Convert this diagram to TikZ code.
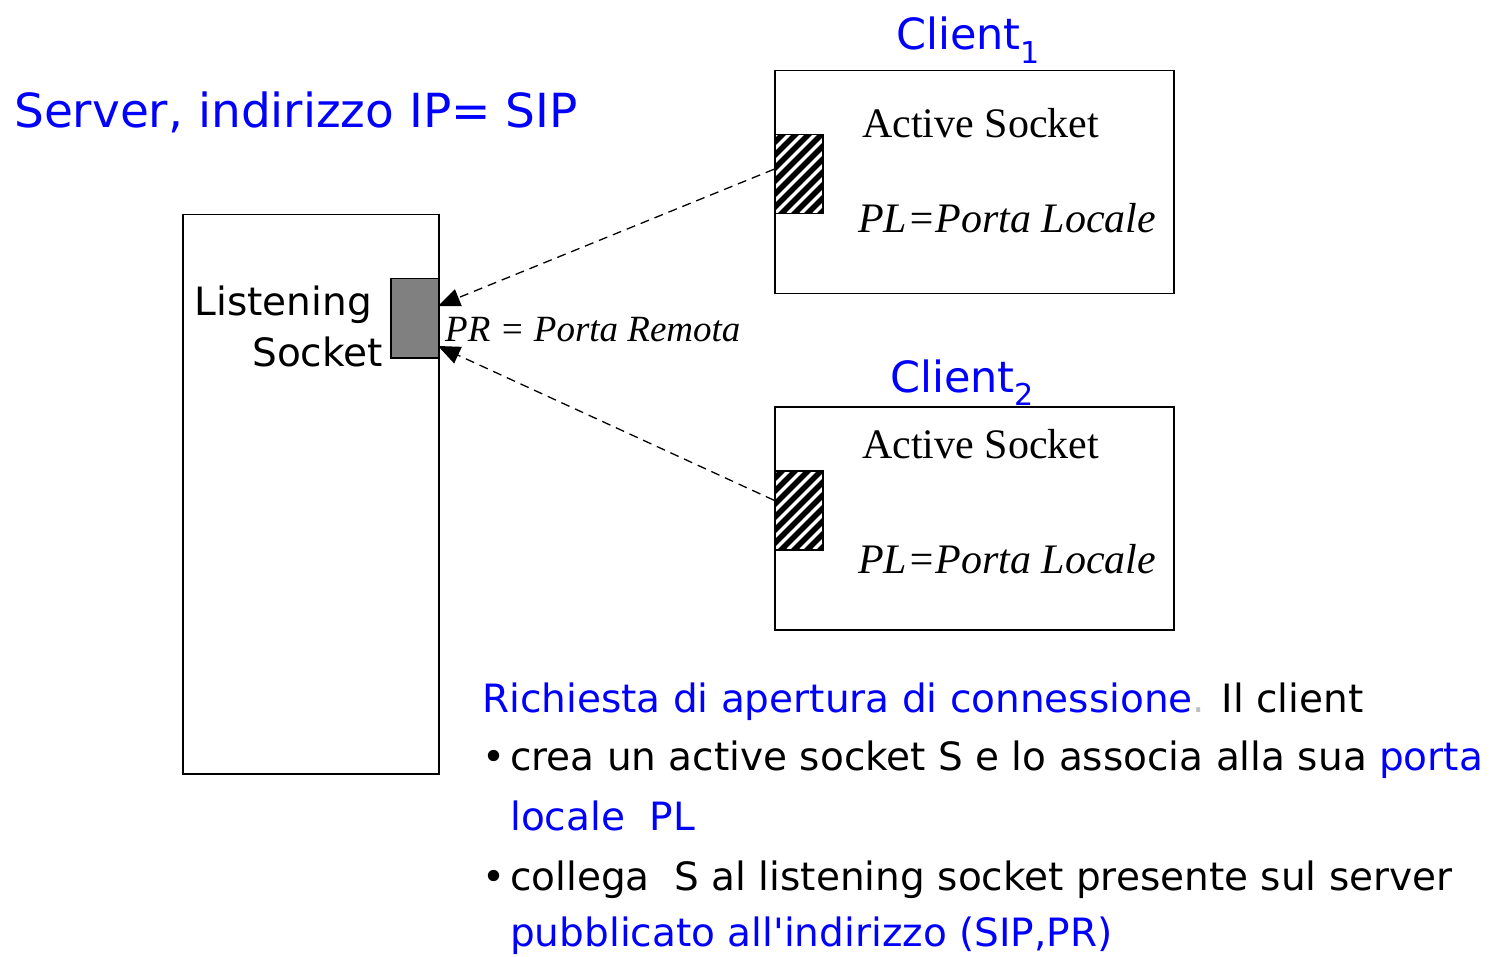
\documentclass[tikz,border=0pt]{standalone}
\usepackage{fontspec}
\setmainfont{Liberation Serif}
\newfontfamily\comicfont{DejaVu Sans}
\usepackage{xcolor}
\usepackage{tikz}
\usetikzlibrary{arrows.meta,positioning}

\begin{document}
\begin{tikzpicture}[x=1pt,y=-1pt,
    box/.style={draw,line width=1.5pt,inner sep=0,anchor=north west},
    hatch/.style={draw,line width=1.5pt,fill=black,inner sep=0,anchor=north west,
      minimum width=48pt,minimum height=79pt,
      path picture={\foreach \k in {-8,...,5}
        \draw[white,line width=3.5pt] ([xshift=\k*13pt]path picture bounding box.south west) -- ++(90pt,90pt);}},
    conn/.style={dashed,line width=1.3pt,dash pattern=on 9pt off 6pt,-{Triangle[length=22pt,width=18pt]}},
    comic/.style={font=\comicfont\fontsize{39}{47}\selectfont,anchor=base west,inner sep=0},
    serif/.style={font=\fontsize{42}{50}\selectfont,anchor=base west,inner sep=0}]
  \useasboundingbox (0,0) rectangle (1495,957);
  % server
  \node[comic,font=\comicfont\fontsize{47}{56}\selectfont,text=blue] (srv) at (14,128) {Server, indirizzo IP= SIP};
  \node[box,minimum width=256pt,minimum height=559pt] (sbox) at (182,214) {};
  \node[box,fill=gray,minimum width=48pt,minimum height=79pt] (ls) at (390,278) {};
  \node[comic,anchor=base east] (lst1) at (372,316) {Listening};
  \node[comic,anchor=base east] (lst2) at (383,366) {Socket};
  \node[serif,font=\itshape\fontsize{37}{44}\selectfont] (pr) at (445,341) {PR = Porta Remota};
  % client 1
  \node[comic,font=\comicfont\fontsize{43}{52}\selectfont,text=blue] (c1) at (896,50) {Client\textsubscript{1}};
  \node[box,minimum width=399pt,minimum height=223pt] (cbox1) at (774,70) {};
  \node[hatch] (h1) at (774,134) {};
  \node[serif] (as1) at (862,138) {Active Socket};
  \node[serif,font=\itshape\fontsize{42}{50}\selectfont] (pl1) at (858,233) {PL=Porta Locale};
  % client 2
  \node[comic,font=\comicfont\fontsize{43}{52}\selectfont,text=blue] (c2) at (890,392) {Client\textsubscript{2}};
  \node[box,minimum width=399pt,minimum height=223pt] (cbox2) at (774,406) {};
  \node[hatch] (h2) at (774,470) {};
  \node[serif] (as2) at (862,458) {Active Socket};
  \node[serif,font=\itshape\fontsize{42}{50}\selectfont] (pl2) at (858,573) {PL=Porta Locale};
  % connessioni
  \coordinate (pr1) at (438,306);
  \coordinate (pr2) at (438,346);
  \draw[conn] ([yshift=5pt]h1.west) -- (pr1);
  \draw[conn] ([yshift=10pt]h2.west) -- (pr2);
  % testo
  \node[comic] (t1) at (482,712) {\textcolor{blue}{Richiesta di apertura di connessione}\textcolor{lightgray}{.} Il client};
  \node[comic] (b1) at (482,770) {\textbullet};
  \node[comic] (t2) at (510,770) {crea un active socket S e lo associa alla sua \textcolor{blue}{porta}};
  \node[comic,text=blue] (t3) at (510,830) {locale\ \ PL};
  \node[comic] (b2) at (482,890) {\textbullet};
  \node[comic] (t4) at (510,890) {collega\ \ S al listening socket presente sul server};
  \node[comic,text=blue] (t5) at (510,946) {pubblicato all'indirizzo (SIP,PR)};
\end{tikzpicture}
\end{document}
